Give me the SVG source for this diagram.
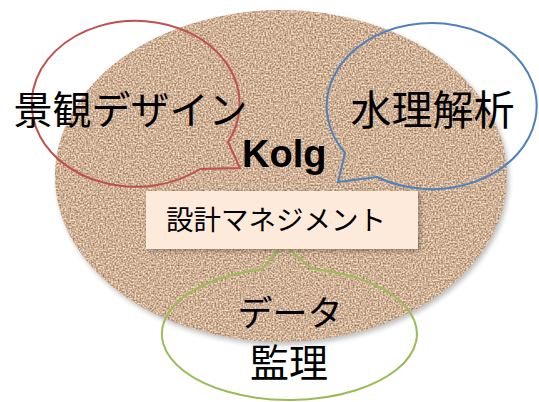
<svg xmlns="http://www.w3.org/2000/svg" width="539" height="402" viewBox="0 0 539 402">
  <defs>
    <style>
      .jp { font-family: "Noto Sans CJK JP", "Noto Sans CJK SC", sans-serif; fill: #000; text-anchor: middle; }
      .bubble { fill: none; stroke-width: 2; stroke-linejoin: miter; }
    </style>
    <filter id="sand" x="0" y="0" width="1" height="1" color-interpolation-filters="sRGB">
      <feTurbulence type="fractalNoise" baseFrequency="0.6" numOctaves="1" seed="5" result="n"/>
      <feColorMatrix in="n" type="matrix" values="0.8 0 0 0 0.41  0.8 0 0 0 0.295  0.75 0 0 0 0.215  0 0 0 0 1" result="c"/>
      <feTurbulence type="fractalNoise" baseFrequency="0.7" numOctaves="1" seed="11" result="d"/>
      <feColorMatrix in="d" type="matrix" values="0 0 0 0 0.45  0 0 0 0 0.35  0 0 0 0 0.42  0 0 0 -25 4.3" result="dots"/>
      <feMerge result="m"><feMergeNode in="c"/><feMergeNode in="dots"/></feMerge>
      <feComposite in="m" in2="SourceGraphic" operator="in"/>
    </filter>
    <filter id="shadow" x="-10%" y="-10%" width="120%" height="120%">
      <feGaussianBlur stdDeviation="2.5"/>
    </filter>
  </defs>
  <rect width="539" height="402" fill="#ffffff"/>

  <g id="kolg">
    <ellipse cx="283" cy="179" rx="226" ry="166" fill="#000" opacity="0.25" filter="url(#shadow)"/>
    <ellipse cx="281" cy="176" rx="226" ry="166" fill="#c6a88a" filter="url(#sand)"/>
    <text x="242" y="167" font-family="'Liberation Sans', Arial, sans-serif" font-weight="bold" font-size="38" fill="#000">Kolg</text>
  </g>

  <g id="keikan">
    <path class="bubble" stroke="#c0504d" d="M228,142 L240,168 L200,169 A104,83 0 1 1 228,142 Z"/>
    <text class="jp" x="130.5" y="124" font-size="39">景観デザイン</text>
  </g>

  <g id="suiri">
    <path class="bubble" stroke="#4f81bd" d="M345,153 L338,182 L377,177 A105,83 0 1 0 345,153 Z"/>
    <text class="jp" x="432.5" y="125" font-size="41">水理解析</text>
  </g>

  <g id="data">
    <path class="bubble" stroke="#9bbb59" d="M262,269.5 L283,244 L312,269 A127.5,66 0 1 1 262,269.5 Z"/>
    <text class="jp" x="290" y="326" font-size="35">データ</text>
    <text class="jp" x="289" y="377" font-size="39">監理</text>
  </g>

  <g id="management">
    <rect x="148" y="193" width="272" height="58" fill="#000" opacity="0.3" filter="url(#shadow)"/>
    <rect x="146" y="191" width="272" height="58" fill="#fdeadb"/>
    <text class="jp" x="276" y="230" font-size="27.5">設計マネジメント</text>
  </g>
</svg>
